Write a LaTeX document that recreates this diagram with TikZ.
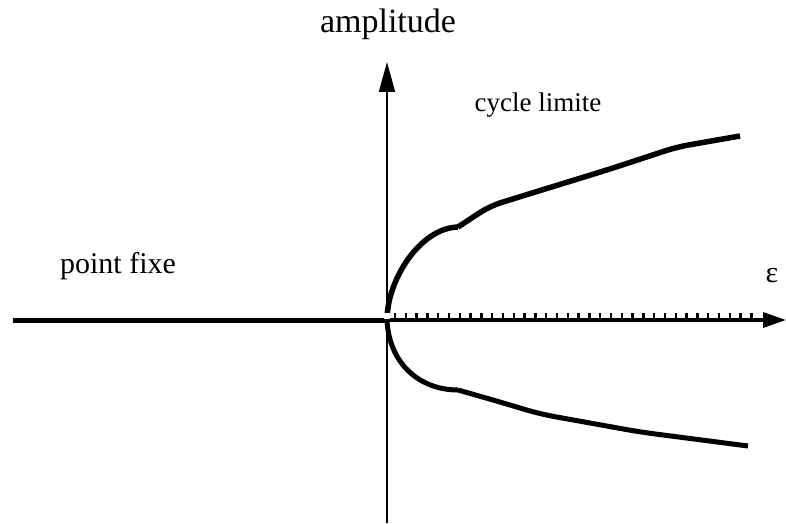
\documentclass[tikz,border=0pt]{standalone}
\usepackage{fontspec}
\setmainfont{Liberation Serif}
\usetikzlibrary{arrows.meta}
\begin{document}
\begin{tikzpicture}[x=1pt,y=-1pt,
  lbl/.style={inner sep=0pt,anchor=base},
  branch/.style={line width=5.5pt,line join=round},
  axisline/.style={line width=2pt}]
\useasboundingbox (0,0) rectangle (786,524);
% coordinates
\coordinate (O) at (387,320);
\coordinate (vb) at (387,523);
\coordinate (vt) at (387,62);
\coordinate (hl) at (13,320);
\coordinate (hs) at (385,320);
\coordinate (hr) at (786,320);
% labels
\node[lbl,font=\fontsize{34}{37}\selectfont] (amp) at (388,33) {amplitude};
\node[lbl,font=\fontsize{27}{30}\selectfont] (cyc) at (538,112) {cycle limite};
\node[lbl,font=\fontsize{30}{33}\selectfont] (pf) at (118,273) {point fixe};
\node[lbl,font=\fontsize{30}{33}\selectfont] (eps) at (772,282) {ε};
% vertical axis
\draw[axisline,-{Triangle[length=30pt,width=16pt]}] (vb) -- (vt);
% left fixed point branch
\draw[line width=5pt] (hl) -- (hs);
% right unstable branch (axis with ticks)
\draw[line width=3.5pt,-{Triangle[length=23pt,width=15pt]}] (O) -- (hr);
\foreach \i in {0,...,33}{
  \draw[line width=2.4pt] (395+10.8*\i,321) -- (395+10.8*\i,312.5);
}
% upper branch
\coordinate (u1) at (458,227);
\coordinate (u2) at (490,206);
\coordinate (u3) at (610,169);
\coordinate (u4) at (677,147);
\coordinate (u5) at (740,136);
\draw[branch] (O) .. controls (387,280) and (420,228) .. (u1);
\draw[branch,rounded corners=12pt] (u1) -- (u2) -- (u3) -- (u4) -- (u5);
% lower branch
\coordinate (l1) at (458,390);
\coordinate (l2) at (500,402);
\coordinate (l3) at (540,414);
\coordinate (l4) at (640,432);
\coordinate (l5) at (748,446);
\draw[line width=5pt,line join=round] (O) .. controls (389,364) and (420,390) .. (l1);
\draw[line width=5pt,line join=round,rounded corners=15pt] (l1) -- (l2) -- (l3) -- (l4) -- (l5);
% small gap at origin
\fill[white] (384,313) rectangle (390,319);
\end{tikzpicture}
\end{document}
